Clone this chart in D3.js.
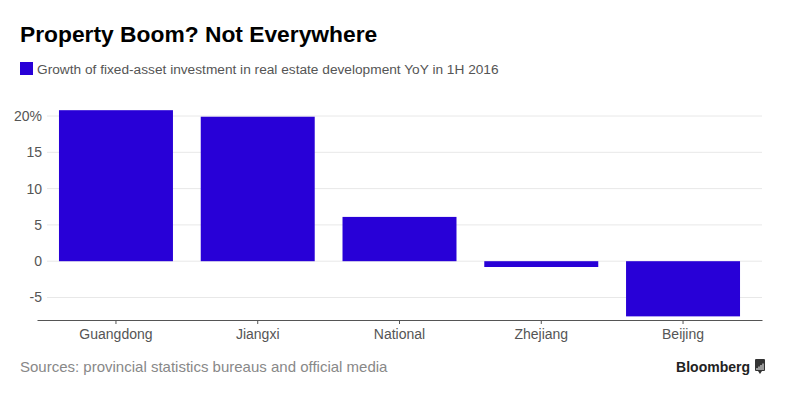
<!DOCTYPE html>
<html>
<head>
<meta charset="utf-8">
<script src="https://cdn.jsdelivr.net/npm/d3@7"></script>
<style>
  body { margin: 0; background: #fff; }
  text { font-family: "Liberation Sans", Arial, sans-serif; }
</style>
</head>
<body>
<div id="chart-area"></div>
<script>
// Data
var regions = ["Guangdong", "Jiangxi", "National", "Zhejiang", "Beijing"];
var growth = [20.8, 19.9, 6.1, -0.8, -7.6];
var yTicks = [-5, 0, 5, 10, 15, 20];

var W = 788, H = 395;
var margin = { left: 37, right: 26, top: 105, bottom: 75 };

var svg = d3.select("#chart-area").append("svg")
    .attr("width", W)
    .attr("height", H);

// Title + legend
svg.append("text")
    .attr("x", 20).attr("y", 42)
    .attr("font-size", "22.8px")
    .attr("font-weight", "bold")
    .attr("fill", "#000")
    .text("Property Boom? Not Everywhere");

svg.append("rect")
    .attr("x", 20).attr("y", 62)
    .attr("width", 13).attr("height", 13)
    .attr("fill", "#2800d7");

svg.append("text")
    .attr("x", 37).attr("y", 74)
    .attr("font-size", "13.7px")
    .attr("fill", "#555")
    .text("Growth of fixed-asset investment in real estate development YoY in 1H 2016");

// Scales
var x = d3.scaleBand()
    .domain(regions)
    .range([margin.left, W - margin.right])
    .paddingInner(0.196)
    .paddingOuter(0.155);

var y = d3.scaleLinear()
    .domain([-8.1, 20])
    .range([320, 116]);

// Gridlines
svg.append("g").selectAll("line")
    .data(yTicks)
    .enter().append("line")
    .attr("x1", margin.left + 10)
    .attr("x2", W - margin.right)
    .attr("y1", function(d){ return y(d); })
    .attr("y2", function(d){ return y(d); })
    .attr("stroke", "#e8e8e8")
    .attr("stroke-width", 1);

// Y labels
svg.append("g").selectAll("text")
    .data(yTicks)
    .enter().append("text")
    .attr("x", 42)
    .attr("y", function(d){ return y(d) + 5; })
    .attr("text-anchor", "end")
    .attr("font-size", "14px")
    .attr("fill", "#555")
    .text(function(d){ return d === 20 ? "20%" : d; });

// Bars
svg.append("g").selectAll("rect")
    .data(regions)
    .enter().append("rect")
    .attr("x", function(d){ return x(d); })
    .attr("width", x.bandwidth())
    .attr("y", function(d, i){ return y(Math.max(0, growth[i])); })
    .attr("height", function(d, i){ return Math.abs(y(growth[i]) - y(0)); })
    .attr("fill", "#2800d7");

// X axis
var xAxis = svg.append("g")
    .attr("transform", "translate(0,320)")
    .call(d3.axisBottom(x).tickSize(4).tickPadding(5).tickSizeOuter(0));
xAxis.select(".domain").attr("stroke", "#555").attr("stroke-width", 1.2);
xAxis.selectAll(".tick line").attr("stroke", "#555");
xAxis.selectAll(".tick text")
    .attr("font-size", "14px")
    .attr("font-family", "Liberation Sans, Arial, sans-serif")
    .attr("fill", "#555");

// Footer
svg.append("text")
    .attr("x", 20).attr("y", 372)
    .attr("font-size", "15px")
    .attr("fill", "#888")
    .text("Sources: provincial statistics bureaus and official media");

svg.append("text")
    .attr("x", 750).attr("y", 372)
    .attr("text-anchor", "end")
    .attr("font-size", "14px")
    .attr("font-weight", "bold")
    .attr("fill", "#222")
    .text("Bloomberg");

// small logo mark
var logo = svg.append("g").attr("transform", "translate(755,359)");
logo.append("rect").attr("width", 10).attr("height", 12).attr("rx", 1).attr("fill", "#333");
logo.append("path").attr("d", "M3,12 L5,15 L7,12 Z").attr("fill", "#333");
[2, 4, 6, 8].forEach(function(px, i){
    logo.append("rect").attr("x", px - 0.5).attr("y", 9 - i * 1.5).attr("width", 1).attr("height", 2 + i * 1.5).attr("fill", "#fff");
});
</script>
</body>
</html>
